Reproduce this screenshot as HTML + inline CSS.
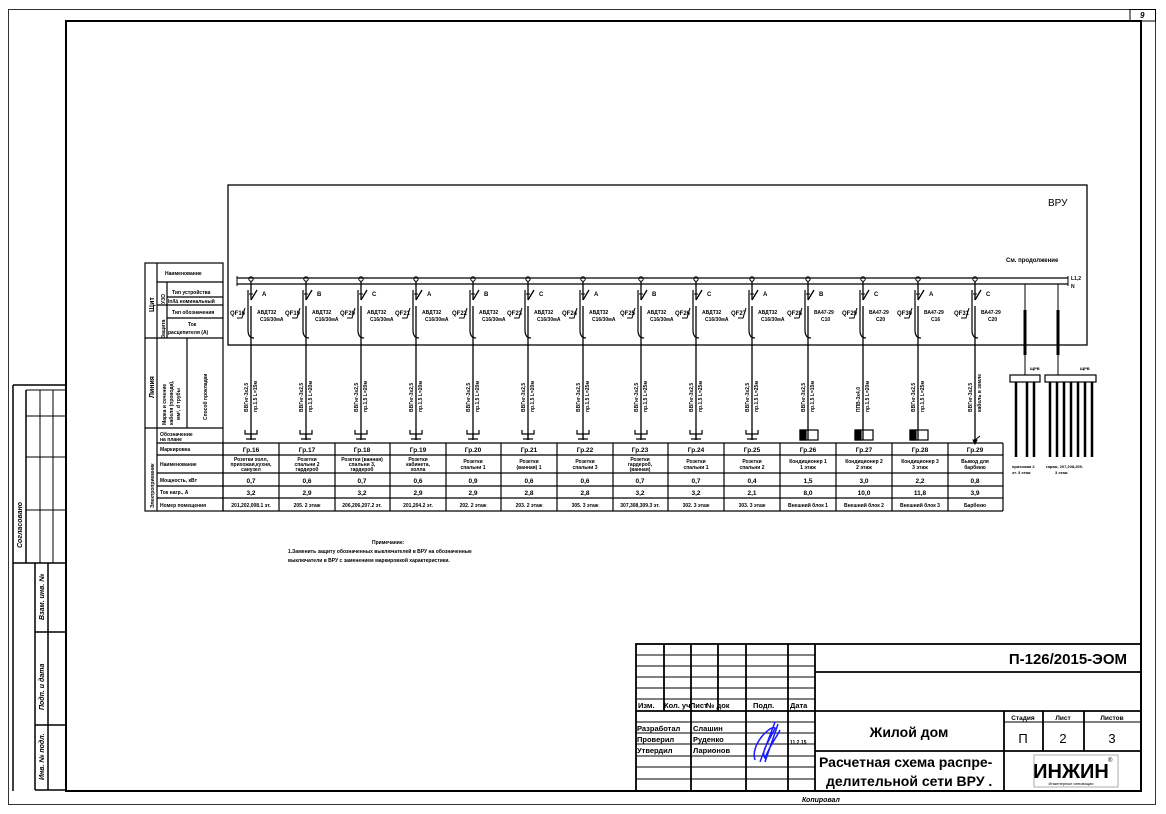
<!DOCTYPE html>
<html><head><meta charset="utf-8"><style>
html,body{margin:0;padding:0;background:#fff;}
svg{display:block;font-family:"Liberation Sans",sans-serif;}
text{fill:#000;}
.b{fill:#1a1aff;font-weight:bold;font-size:6px;}
.s{font-size:5px;font-weight:bold;}
.m{font-size:6px;font-weight:bold;}
</style></head><body>
<svg width="1166" height="814" viewBox="0 0 1166 814" xmlns="http://www.w3.org/2000/svg">
<defs>
<g id="br" stroke="#000" fill="none">
<circle cx="0" cy="279" r="2.2" stroke-width="1"/>
<line x1="0" y1="281" x2="0" y2="300" stroke-width="1.3"/>
<line x1="0" y1="300" x2="6" y2="290" stroke-width="1.3"/>
<line x1="0" y1="306" x2="0" y2="440" stroke-width="1.3"/>
<path d="M-3 290 L-3 330 Q-3 338 3 338" stroke-width="1.2"/>
<path d="M-14 318 L-9 318 L-6 308" stroke-width="1"/>
<line x1="-2" y1="294" x2="2" y2="294" stroke-width="1"/>
</g>
<g id="rc" stroke="#000" fill="none" stroke-width="1.2">
<path d="M-6 430 L-6 434 L6 434 L6 430 M-5 439 L5 439 M0 434 L0 439"/>
</g>
<g id="bx" stroke="#000" fill="none" stroke-width="1.2">
<rect x="-4" y="430" width="18" height="10"/>
<rect x="-4" y="430" width="6" height="10" fill="#000"/>
</g>
</defs>

<rect x="8.5" y="9.5" width="1147" height="795" fill="none" stroke="#000" stroke-width="0.8"/>
<rect x="66" y="21" width="1075" height="770" fill="none" stroke="#000" stroke-width="2"/>
<rect x="1130" y="9.5" width="25.5" height="11.5" fill="none" stroke="#000" stroke-width="1"/>
<text x="1140" y="18" font-size="8" font-style="italic" font-weight="bold">9</text>

<g stroke="#000" fill="none" stroke-width="1.5">
<line x1="13" y1="385" x2="13" y2="791"/>
<line x1="13" y1="385" x2="66" y2="385"/>
<line x1="26" y1="390" x2="66" y2="390" stroke-width="1"/>
<line x1="26" y1="390" x2="26" y2="563"/>
<line x1="40" y1="390" x2="40" y2="563" stroke-width="1"/>
<line x1="53" y1="390" x2="53" y2="563" stroke-width="1"/>
<line x1="26" y1="416" x2="66" y2="416" stroke-width="1"/>
<line x1="26" y1="457" x2="66" y2="457" stroke-width="1"/>
<line x1="26" y1="510" x2="66" y2="510" stroke-width="1"/>
<line x1="13" y1="563" x2="66" y2="563"/>
<line x1="35" y1="563" x2="35" y2="790"/>
<line x1="48" y1="563" x2="48" y2="790"/>
<line x1="35" y1="632" x2="66" y2="632"/>
<line x1="35" y1="725" x2="66" y2="725"/>
<line x1="35" y1="790" x2="66" y2="790"/>
</g>
<g font-size="7" font-style="italic" font-weight="bold">
<text transform="translate(22,548) rotate(-90)">Согласовано</text>
<text transform="translate(44,620) rotate(-90)">Взам. инв. №</text>
<text transform="translate(44,710) rotate(-90)">Подп. и дата</text>
<text transform="translate(44,780) rotate(-90)">Инв. № подл.</text>
</g>

<rect x="228" y="185" width="859" height="160" fill="none" stroke="#000" stroke-width="1.3"/>
<text x="1048" y="206" font-size="10">ВРУ</text>
<text x="1006" y="262" class="m">См. продолжение</text>
<line x1="237" y1="278" x2="1068" y2="278" stroke="#000" stroke-width="1.3"/>
<line x1="237" y1="284" x2="1068" y2="284" stroke="#000" stroke-width="1.3"/>
<line x1="237" y1="276" x2="237" y2="286" stroke="#000"/>
<line x1="1068" y1="276" x2="1068" y2="286" stroke="#000"/>
<text x="1071" y="280" class="s">L1,2</text>
<text x="1071" y="288" class="s">N</text>

<g>
<use href="#br" x="251"/><use href="#br" x="306"/><use href="#br" x="361"/><use href="#br" x="416"/><use href="#br" x="473"/><use href="#br" x="528"/><use href="#br" x="583"/><use href="#br" x="641"/><use href="#br" x="696"/><use href="#br" x="752"/><use href="#br" x="808"/><use href="#br" x="863"/><use href="#br" x="918"/><use href="#br" x="975"/>
<use href="#rc" x="251"/><use href="#rc" x="306"/><use href="#rc" x="361"/><use href="#rc" x="416"/><use href="#rc" x="473"/><use href="#rc" x="528"/><use href="#rc" x="583"/><use href="#rc" x="641"/><use href="#rc" x="696"/><use href="#rc" x="752"/>
<use href="#bx" x="804"/><use href="#bx" x="859"/><use href="#bx" x="914"/>
<path d="M975 440 L980 436 M973 440 L977 440 L975 444Z" stroke="#000" fill="#000"/>
</g>
<g class="m">
<text x="262" y="296">A</text><text x="317" y="296">B</text><text x="372" y="296">C</text><text x="427" y="296">A</text><text x="484" y="296">B</text><text x="539" y="296">C</text><text x="594" y="296">A</text><text x="652" y="296">B</text><text x="707" y="296">C</text><text x="763" y="296">A</text><text x="819" y="296">B</text><text x="874" y="296">C</text><text x="929" y="296">A</text><text x="986" y="296">C</text>
</g>
<g class="b">
<text x="230" y="315">QF16</text><text x="285" y="315">QF19</text><text x="340" y="315">QF20</text><text x="395" y="315">QF21</text><text x="452" y="315">QF22</text><text x="507" y="315">QF23</text><text x="562" y="315">QF24</text><text x="620" y="315">QF25</text><text x="675" y="315">QF26</text><text x="731" y="315">QF27</text><text x="787" y="315">QF28</text><text x="842" y="315">QF29</text><text x="897" y="315">QF30</text><text x="954" y="315">QF31</text>
</g>
<g class="s">
<text x="257" y="314">АВДТ32</text><text x="260" y="321">C16/30мА</text>
<text x="312" y="314">АВДТ32</text><text x="315" y="321">C16/30мА</text>
<text x="367" y="314">АВДТ32</text><text x="370" y="321">C16/30мА</text>
<text x="422" y="314">АВДТ32</text><text x="425" y="321">C16/30мА</text>
<text x="479" y="314">АВДТ32</text><text x="482" y="321">C16/30мА</text>
<text x="534" y="314">АВДТ32</text><text x="537" y="321">C16/30мА</text>
<text x="589" y="314">АВДТ32</text><text x="592" y="321">C16/30мА</text>
<text x="647" y="314">АВДТ32</text><text x="650" y="321">C16/30мА</text>
<text x="702" y="314">АВДТ32</text><text x="705" y="321">C16/30мА</text>
<text x="758" y="314">АВДТ32</text><text x="761" y="321">C16/30мА</text>
<text x="814" y="314">ВА47-29</text><text x="821" y="321">C10</text>
<text x="869" y="314">ВА47-29</text><text x="876" y="321">C20</text>
<text x="924" y="314">ВА47-29</text><text x="931" y="321">C16</text>
<text x="981" y="314">ВА47-29</text><text x="988" y="321">C20</text>
</g>
<g class="s">
<text transform="translate(248,412) rotate(-90)">ВВГнг-3х2,5</text><text transform="translate(257,412) rotate(-90)">пр.1,5 L=15м</text>
<text transform="translate(303,412) rotate(-90)">ВВГнг-3х2,5</text><text transform="translate(312,412) rotate(-90)">пр.1,5 L=20м</text>
<text transform="translate(358,412) rotate(-90)">ВВГнг-3х2,5</text><text transform="translate(367,412) rotate(-90)">пр.1,5 L=20м</text>
<text transform="translate(413,412) rotate(-90)">ВВГнг-3х2,5</text><text transform="translate(422,412) rotate(-90)">пр.1,5 L=20м</text>
<text transform="translate(470,412) rotate(-90)">ВВГнг-3х2,5</text><text transform="translate(479,412) rotate(-90)">пр.1,5 L=20м</text>
<text transform="translate(525,412) rotate(-90)">ВВГнг-3х2,5</text><text transform="translate(534,412) rotate(-90)">пр.1,5 L=20м</text>
<text transform="translate(580,412) rotate(-90)">ВВГнг-3х2,5</text><text transform="translate(589,412) rotate(-90)">пр.1,5 L=25м</text>
<text transform="translate(638,412) rotate(-90)">ВВГнг-3х2,5</text><text transform="translate(647,412) rotate(-90)">пр.1,5 L=25м</text>
<text transform="translate(693,412) rotate(-90)">ВВГнг-3х2,5</text><text transform="translate(702,412) rotate(-90)">пр.1,5 L=25м</text>
<text transform="translate(749,412) rotate(-90)">ВВГнг-3х2,5</text><text transform="translate(758,412) rotate(-90)">пр.1,5 L=25м</text>
<text transform="translate(805,412) rotate(-90)">ВВГнг-3х2,5</text><text transform="translate(814,412) rotate(-90)">пр.1,5 L=15м</text>
<text transform="translate(860,412) rotate(-90)">ППВ-3х4,0</text><text transform="translate(869,412) rotate(-90)">пр.1,5 L=20м</text>
<text transform="translate(915,412) rotate(-90)">ВВГнг-3х2,5</text><text transform="translate(924,412) rotate(-90)">пр.1,5 L=25м</text>
<text transform="translate(972,412) rotate(-90)">ВВГнг-3х2,5</text><text transform="translate(981,412) rotate(-90)">кабель в земле</text>
</g>

<g stroke="#000" fill="none">
<line x1="1025" y1="284" x2="1025" y2="375" stroke-width="1"/>
<line x1="1058" y1="284" x2="1058" y2="375" stroke-width="1"/>
<line x1="1025" y1="310" x2="1025" y2="355" stroke-width="3"/>
<line x1="1058" y1="310" x2="1058" y2="355" stroke-width="3"/>
<rect x="1010" y="375" width="30" height="7" stroke-width="1.2"/>
<rect x="1045" y="375" width="51" height="7" stroke-width="1.2"/>
<g stroke-width="2.5">
<line x1="1016" y1="382" x2="1016" y2="457"/><line x1="1027" y1="382" x2="1027" y2="457"/><line x1="1034" y1="382" x2="1034" y2="457"/>
<line x1="1050" y1="382" x2="1050" y2="457"/><line x1="1057" y1="382" x2="1057" y2="457"/><line x1="1064" y1="382" x2="1064" y2="457"/><line x1="1071" y1="382" x2="1071" y2="457"/><line x1="1078" y1="382" x2="1078" y2="457"/><line x1="1085" y1="382" x2="1085" y2="457"/><line x1="1092" y1="382" x2="1092" y2="457"/>
</g>
</g>
<g font-size="4" font-weight="bold">
<text x="1030" y="370">ЩРВ</text><text x="1080" y="370">ЩРВ</text>
<text x="1012" y="468">прихожая 2</text><text x="1012" y="474">эт. 3 этаж</text>
<text x="1046" y="468">гараж, 207,208,209.</text><text x="1055" y="474">3 этаж</text>
</g>

<g stroke="#000" fill="none" stroke-width="1.2">
<rect x="145" y="263" width="78" height="248"/>
<line x1="157" y1="263" x2="157" y2="511"/>
<line x1="145" y1="338" x2="223" y2="338"/>
<line x1="145" y1="428" x2="223" y2="428"/>
<line x1="157" y1="282" x2="223" y2="282"/>
<line x1="167" y1="282" x2="167" y2="338"/>
<line x1="167" y1="297" x2="223" y2="297"/>
<line x1="157" y1="305" x2="223" y2="305"/>
<line x1="167" y1="318" x2="223" y2="318"/>
<line x1="187" y1="338" x2="187" y2="428"/>
<line x1="157" y1="443" x2="223" y2="443"/>
<line x1="157" y1="455" x2="1003" y2="455"/>
<line x1="157" y1="473" x2="1003" y2="473"/>
<line x1="157" y1="486" x2="1003" y2="486"/>
<line x1="157" y1="498" x2="1003" y2="498"/>
<line x1="223" y1="443" x2="1003" y2="443"/>
<line x1="223" y1="511" x2="1003" y2="511"/>
</g>
<g stroke="#000" stroke-width="1.2">
<line x1="223" y1="443" x2="223" y2="511"/><line x1="279" y1="443" x2="279" y2="511"/><line x1="335" y1="443" x2="335" y2="511"/><line x1="390" y1="443" x2="390" y2="511"/><line x1="446" y1="443" x2="446" y2="511"/><line x1="501" y1="443" x2="501" y2="511"/><line x1="557" y1="443" x2="557" y2="511"/><line x1="613" y1="443" x2="613" y2="511"/><line x1="668" y1="443" x2="668" y2="511"/><line x1="724" y1="443" x2="724" y2="511"/><line x1="780" y1="443" x2="780" y2="511"/><line x1="836" y1="443" x2="836" y2="511"/><line x1="892" y1="443" x2="892" y2="511"/><line x1="948" y1="443" x2="948" y2="511"/><line x1="1003" y1="443" x2="1003" y2="511"/>
</g>
<g class="s">
<text x="165" y="275">Наименование</text>
<text x="172" y="294">Тип устройства</text>
<text x="168" y="303">In/I∆ номинальный</text>
<text x="172" y="314">Тип обозначения</text>
<text x="188" y="326">Ток</text><text x="168" y="334">расцепителя (А)</text>
<text x="160" y="436">Обозначение</text><text x="160" y="441">на плане</text>
<text x="160" y="451">Маркировка</text>
<text x="160" y="466">Наименование</text>
<text x="160" y="482">Мощность, кВт</text>
<text x="160" y="494">Ток нагр., А</text>
<text x="160" y="507">Номер помещения</text>
</g>
<g class="s">
<text transform="translate(154,312) rotate(-90)" font-size="7">Щит</text>
<text transform="translate(165,304) rotate(-90)">УЗО</text>
<text transform="translate(165,338) rotate(-90)">Защита</text>
<text transform="translate(154,398) rotate(-90)" font-size="7">Линия</text>
<text transform="translate(166,425) rotate(-90)">Марка и сечение</text>
<text transform="translate(173,425) rotate(-90)">кабеля (провода),</text>
<text transform="translate(180,420) rotate(-90)">мм², d трубы</text>
<text transform="translate(207,420) rotate(-90)">Способ прокладки</text>
<text transform="translate(154,508) rotate(-90)">Электроприемник</text>
</g>
<g class="s" text-anchor="middle">
<g font-size="6.5">
<text x="251" y="452">Гр.16</text><text x="307" y="452">Гр.17</text><text x="362" y="452">Гр.18</text><text x="418" y="452">Гр.19</text><text x="473" y="452">Гр.20</text><text x="529" y="452">Гр.21</text><text x="585" y="452">Гр.22</text><text x="640" y="452">Гр.23</text><text x="696" y="452">Гр.24</text><text x="752" y="452">Гр.25</text><text x="808" y="452">Гр.26</text><text x="864" y="452">Гр.27</text><text x="920" y="452">Гр.28</text><text x="975" y="452">Гр.29</text>
</g>
<text x="251" y="461">Розетки холл,</text><text x="251" y="466">прихожая,кухня,</text><text x="251" y="471">санузел</text>
<text x="307" y="461">Розетки</text><text x="307" y="466">спальни 2</text><text x="307" y="471">гардероб</text>
<text x="362" y="461">Розетки (ванная)</text><text x="362" y="466">спальни 3,</text><text x="362" y="471">гардероб</text>
<text x="418" y="461">Розетки</text><text x="418" y="466">кабинета,</text><text x="418" y="471">холла</text>
<text x="473" y="463">Розетки</text><text x="473" y="469">спальни 1</text>
<text x="529" y="463">Розетки</text><text x="529" y="469">(ванная) 1</text>
<text x="585" y="463">Розетки</text><text x="585" y="469">спальни 3</text>
<text x="640" y="461">Розетки</text><text x="640" y="466">гардероб,</text><text x="640" y="471">(ванная)</text>
<text x="696" y="463">Розетки</text><text x="696" y="469">спальни 1</text>
<text x="752" y="463">Розетки</text><text x="752" y="469">спальни 2</text>
<text x="808" y="463">Кондиционер 1</text><text x="808" y="469">1 этаж</text>
<text x="864" y="463">Кондиционер 2</text><text x="864" y="469">2 этаж</text>
<text x="920" y="463">Кондиционер 3</text><text x="920" y="469">3 этаж</text>
<text x="975" y="463">Вывод для</text><text x="975" y="469">барбекю</text>
<g font-size="6.5">
<text x="251" y="483">0,7</text><text x="307" y="483">0,6</text><text x="362" y="483">0,7</text><text x="418" y="483">0,6</text><text x="473" y="483">0,9</text><text x="529" y="483">0,6</text><text x="585" y="483">0,6</text><text x="640" y="483">0,7</text><text x="696" y="483">0,7</text><text x="752" y="483">0,4</text><text x="808" y="483">1,5</text><text x="864" y="483">3,0</text><text x="920" y="483">2,2</text><text x="975" y="483">0,8</text>
<text x="251" y="495">3,2</text><text x="307" y="495">2,9</text><text x="362" y="495">3,2</text><text x="418" y="495">2,9</text><text x="473" y="495">2,9</text><text x="529" y="495">2,8</text><text x="585" y="495">2,8</text><text x="640" y="495">3,2</text><text x="696" y="495">3,2</text><text x="752" y="495">2,1</text><text x="808" y="495">8,0</text><text x="864" y="495">10,0</text><text x="920" y="495">11,8</text><text x="975" y="495">3,9</text>
</g>
<text x="251" y="507">201,202,008.1 эт.</text><text x="307" y="507">205. 2 этаж</text><text x="362" y="507">206,206,207.2 эт.</text><text x="418" y="507">201,204.2 эт.</text><text x="473" y="507">202. 2 этаж</text><text x="529" y="507">203. 2 этаж</text><text x="585" y="507">305. 3 этаж</text><text x="640" y="507">307,308,309.3 эт.</text><text x="696" y="507">302. 3 этаж</text><text x="752" y="507">303. 3 этаж</text><text x="808" y="507">Внешний блок 1</text><text x="864" y="507">Внешний блок 2</text><text x="920" y="507">Внешний блок 3</text><text x="975" y="507">Барбекю</text>
</g>

<g class="s">
<text x="372" y="544">Примечание:</text>
<text x="288" y="553">1.Заменить защиту обозначенных выключателей в ВРУ на обозначенные</text>
<text x="288" y="562">выключатели в ВРУ с заменением маркировкой характеристики.</text>
</g>

<g stroke="#000" fill="none" stroke-width="1.8">
<rect x="636" y="644" width="505" height="147"/>
<line x1="815" y1="644" x2="815" y2="791"/>
<line x1="815" y1="672" x2="1141" y2="672"/>
<line x1="636" y1="711" x2="1141" y2="711"/>
<line x1="815" y1="751" x2="1141" y2="751"/>
<line x1="1004" y1="711" x2="1004" y2="791"/>
<line x1="1004" y1="722" x2="1141" y2="722" stroke-width="1"/>
<line x1="1043" y1="711" x2="1043" y2="751"/>
<line x1="1084" y1="711" x2="1084" y2="751"/>
<line x1="664" y1="644" x2="664" y2="711"/>
<line x1="691" y1="644" x2="691" y2="711"/>
<line x1="718" y1="644" x2="718" y2="711"/>
<line x1="691" y1="711" x2="691" y2="791"/>
<line x1="746" y1="644" x2="746" y2="791"/>
<line x1="788" y1="644" x2="788" y2="791"/>
</g>
<g stroke="#000" stroke-width="1">
<line x1="636" y1="655" x2="815" y2="655"/><line x1="636" y1="666" x2="815" y2="666"/><line x1="636" y1="677" x2="815" y2="677"/><line x1="636" y1="688" x2="815" y2="688"/><line x1="636" y1="699" x2="815" y2="699"/>
<line x1="636" y1="722" x2="815" y2="722"/><line x1="636" y1="733" x2="815" y2="733"/><line x1="636" y1="744" x2="815" y2="744"/><line x1="636" y1="756" x2="815" y2="756"/><line x1="636" y1="767" x2="815" y2="767"/><line x1="636" y1="779" x2="815" y2="779"/>
</g>
<g font-size="7.5" font-weight="bold">
<text x="638" y="708">Изм.</text><text x="664" y="708">Кол. уч</text><text x="690" y="708">Лист</text><text x="706" y="708">№ док</text><text x="753" y="708">Подп.</text><text x="790" y="708">Дата</text>
<text x="637" y="731">Разработал</text><text x="693" y="731">Слашин</text>
<text x="637" y="742">Проверил</text><text x="693" y="742">Руденко</text>
<text x="637" y="753">Утвердил</text><text x="693" y="753">Ларионов</text>
<text x="790" y="744" font-size="5">11.2.15</text>
</g>
<path d="M755 760 C750 745 770 725 775 728 C770 740 760 752 765 758 C770 745 778 735 780 730 M760 762 L775 722 M765 762 L778 724" stroke="#1a1aff" stroke-width="1.5" fill="none"/>
<text x="1127" y="664" font-size="15" font-weight="bold" text-anchor="end">П-126/2015-ЭОМ</text>
<text x="909" y="737" font-size="14" font-weight="bold" text-anchor="middle">Жилой дом</text>
<text x="819" y="767" font-size="14" font-weight="bold">Расчетная схема распре-</text>
<text x="826" y="786" font-size="14" font-weight="bold">делительной сети ВРУ .</text>
<g font-size="6.5" font-weight="bold" text-anchor="middle">
<text x="1023" y="720">Стадия</text><text x="1063" y="720">Лист</text><text x="1112" y="720">Листов</text>
</g>
<g font-size="13" text-anchor="middle">
<text x="1023" y="743">П</text><text x="1063" y="743">2</text><text x="1112" y="743">3</text>
</g>
<rect x="1034" y="755" width="84" height="32" fill="#fff" stroke="#999" stroke-width="0.8"/>
<text x="1071" y="778" font-size="20" font-weight="bold" text-anchor="middle" fill="#000">ИНЖИН</text>
<text x="1071" y="785" font-size="4" text-anchor="middle" fill="#3a3">Инженерные инновации</text>
<text x="1108" y="762" font-size="6">®</text>
<text x="802" y="802" font-size="7" font-style="italic" font-weight="bold">Копировал</text>
</svg>
</body></html>
